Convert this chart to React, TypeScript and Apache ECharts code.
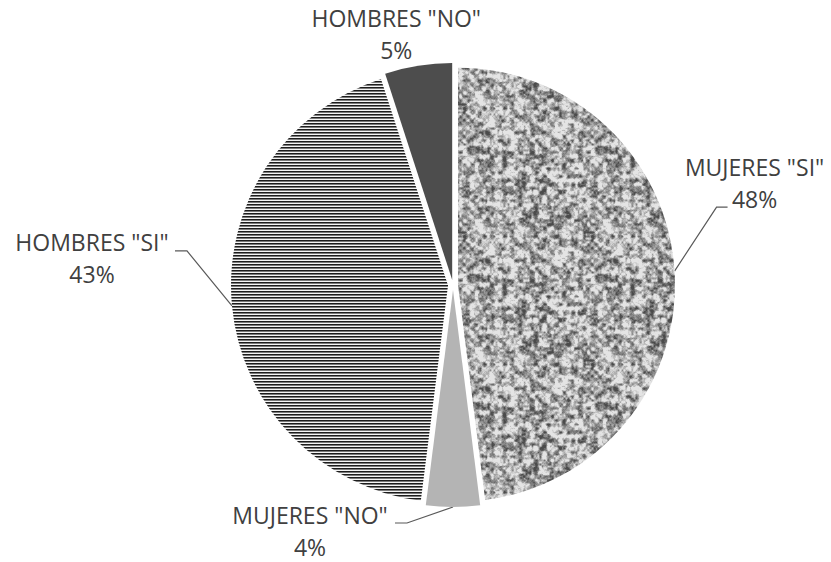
import React, { useEffect, useRef } from "react";
import * as echarts from "echarts";

const categories = ['MUJERES "SI"', 'MUJERES "NO"', 'HOMBRES "SI"', 'HOMBRES "NO"'];
const values = [48, 4, 43, 5];

// layout / style (not data)
const CX = 453;
const CY = 285;
const R = 217;
const EXPLODE = 5;
// per slice: [elbowDx, elbowDy, endDx, endDy, textDx, textDy] relative to slice anchor
const labelOffsets: number[][] = [
  [42, -64, 53, -64, 80, -88],
  [-46, 16, -58, 16, -143, 24],
  [-45, -55, -57, -55, -140, -48],
  [0, 0, 0, 0, -22, -32],
];
const showLine = [true, true, true, false];

function mulberry32(a: number) {
  return function () {
    a |= 0;
    a = (a + 0x6d2b79f5) | 0;
    let t = Math.imul(a ^ (a >>> 15), 1 | a);
    t = (t + Math.imul(t ^ (t >>> 7), 61 | t)) ^ t;
    return ((t ^ (t >>> 14)) >>> 0) / 4294967296;
  };
}

function graniteCanvas(): HTMLCanvasElement {
  const S = 128;
  const c = document.createElement("canvas");
  c.width = S;
  c.height = S;
  const ctx = c.getContext("2d")!;
  const rnd = mulberry32(987);
  const octs = [
    { n: 16, w: 0.12 },
    { n: 32, w: 0.5 },
    { n: 64, w: 0.3 },
    { n: 128, w: 0.08 },
  ].map((o) => {
    const g = new Float32Array(o.n * o.n);
    for (let i = 0; i < g.length; i++) g[i] = rnd();
    return { ...o, g };
  });
  const img = ctx.createImageData(S, S);
  for (let y = 0; y < S; y++) {
    for (let x = 0; x < S; x++) {
      let v = 0;
      for (const o of octs) {
        const fx = (x * o.n) / S;
        const fy = (y * o.n) / S;
        const x0 = Math.floor(fx), y0 = Math.floor(fy);
        const tx = fx - x0, ty = fy - y0;
        const sx = tx * tx * (3 - 2 * tx), sy = ty * ty * (3 - 2 * ty);
        const x1 = (x0 + 1) % o.n, y1 = (y0 + 1) % o.n;
        const a = o.g[y0 * o.n + x0], b = o.g[y0 * o.n + x1];
        const cc = o.g[y1 * o.n + x0], d = o.g[y1 * o.n + x1];
        v += o.w * ((a * (1 - sx) + b * sx) * (1 - sy) + (cc * (1 - sx) + d * sx) * sy);
      }
      v = (v - 0.5) * 2.3 + 0.5;
      let g = 170 + (v - 0.5) * 160;
      g = Math.max(75, Math.min(228, g));
      const k = (y * S + x) * 4;
      img.data[k] = g;
      img.data[k + 1] = g;
      img.data[k + 2] = g;
      img.data[k + 3] = 255;
    }
  }
  ctx.putImageData(img, 0, 0);
  return c;
}

function stripeCanvas(): HTMLCanvasElement {
  const c = document.createElement("canvas");
  c.width = 4;
  c.height = 3;
  const ctx = c.getContext("2d")!;
  ctx.fillStyle = "#f4f4f4";
  ctx.fillRect(0, 0, 4, 3);
  ctx.fillStyle = "#1c1c1c";
  ctx.fillRect(0, 0, 4, 1);
  ctx.fillStyle = "#7a7a7a";
  ctx.fillRect(0, 1, 4, 1);
  return c;
}

export default function App() {
  const ref = useRef<HTMLDivElement>(null);
  useEffect(() => {
    if (!ref.current) return;
    const chart = echarts.init(ref.current, undefined, { renderer: "svg" });
    const fills: any[] = [
      { image: graniteCanvas(), repeat: "repeat" },
      "#b4b4b4",
      { image: stripeCanvas(), repeat: "repeat" },
      "#4d4d4d",
    ];
    const total = values.reduce((a, b) => a + b, 0);
    const mids: number[] = [];
    let cum = 0;
    values.forEach((v) => {
      const a0 = (cum / total) * Math.PI * 2;
      cum += v;
      const a1 = (cum / total) * Math.PI * 2;
      mids.push((a0 + a1) / 2);
    });
    const anchors = mids.map((m) => [
      CX + Math.sin(m) * (R + EXPLODE),
      CY - Math.cos(m) * (R + EXPLODE),
    ]);

    // one pie series per slice, each with its centre pushed outward (exploded pie)
    const series = categories.map((_, si) => ({
      type: "pie",
      silent: true,
      center: [CX + Math.sin(mids[si]) * EXPLODE, CY - Math.cos(mids[si]) * EXPLODE],
      radius: [0, R],
      startAngle: 90,
      clockwise: true,
      percentPrecision: 0,
      emphasis: { disabled: true },
      itemStyle: { borderWidth: 0 },
      label: {
        show: true,
        position: "outside",
        formatter: "{b}\n{d}%",
        fontFamily: "'Open Sans', sans-serif",
        fontSize: 23,
        lineHeight: 32,
        color: "#404040",
        align: "center",
        overflow: "none",
      },
      labelLine: {
        show: true,
        lineStyle: { color: "#595959", width: 1.2 },
      },
      labelLayout: (params: any) => {
        const i = params.dataIndex;
        const o = labelOffsets[i];
        const p = anchors[i];
        const res: any = {
          x: p[0] + o[4],
          y: p[1] + o[5],
          align: "center",
          verticalAlign: "middle",
        };
        if (showLine[i]) {
          res.labelLinePoints = [
            [p[0], p[1]],
            [p[0] + o[0], p[1] + o[1]],
            [p[0] + o[2], p[1] + o[3]],
          ];
        }
        return res;
      },
      data: categories.map((name, i) => ({
        name,
        value: values[i],
        itemStyle: { color: i === si ? fills[i] : "rgba(0,0,0,0)" },
        label: { show: i === si },
        labelLine: { show: i === si && showLine[i] },
      })),
    }));

    chart.setOption({
      animation: false,
      backgroundColor: "#ffffff",
      series,
    });
    return () => chart.dispose();
  }, []);
  return (
    <div
      ref={ref}
      style={{ position: "fixed", left: 0, top: 0, width: 831, height: 562 }}
    />
  );
}
